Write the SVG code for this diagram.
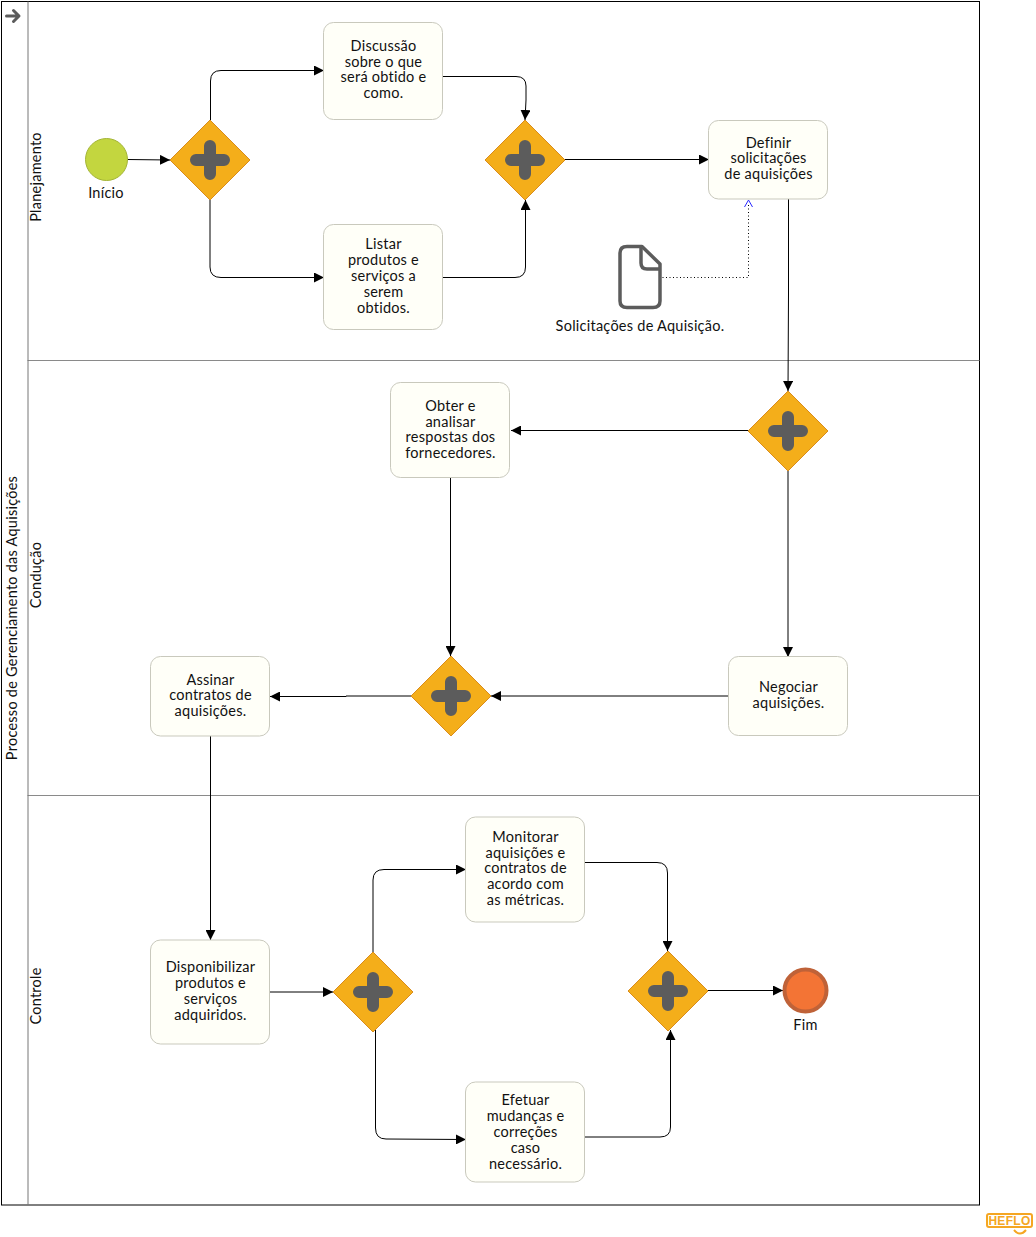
<svg xmlns="http://www.w3.org/2000/svg" width="1036" height="1237" viewBox="0 0 1036 1237">
<defs>
<marker id="arrow" markerUnits="userSpaceOnUse" markerWidth="10" markerHeight="10" refX="10" refY="5" orient="auto"><path d="M0,0L10,5L0,10Z" fill="#000"/></marker>
<g id="gw"><path d="M0,-40L40,0L0,40L-40,0Z" fill="#f4ae1a" stroke="#d98c1c" stroke-width="1"/><path d="M-14,0H14M0,-14V14" stroke="#5c5c5c" stroke-width="12" stroke-linecap="round" fill="none"/></g>
</defs>
<style>
text{font-family:"Lato","Liberation Sans",sans-serif;font-size:14.5px;letter-spacing:.25px;fill:#111;text-anchor:middle}
.task{fill:#fffff8;stroke:#c9c9bd;stroke-width:1}
.c{fill:none;stroke:#000;stroke-width:1;marker-end:url(#arrow)}
</style>
<rect width="1036" height="1237" fill="#fff"/>
<g id="pool">
<rect x="1.500" y="1.500" width="978" height="1203.500" fill="#fff" stroke="#000" stroke-width="1"/>
<path d="M27.500,360.500H979.500M27.500,795.500H979.500" fill="none" stroke="#8a8a8a" stroke-width="1"/>
<path d="M28,1.500V1205" fill="none" stroke="#777" stroke-width="1"/>
<path d="M6.500,16H18M13.500,10.500L19,16L13.500,21.500" fill="none" stroke="#5c5c5c" stroke-width="3" stroke-linecap="round" stroke-linejoin="round"/>
<text transform="translate(17,618) rotate(-90)">Processo de Gerenciamento das Aquisições</text>
<text transform="translate(41,177) rotate(-90)">Planejamento</text>
<text transform="translate(41,575) rotate(-90)">Condução</text>
<text transform="translate(41,996) rotate(-90)">Controle</text>
</g>
<g id="connectors">
<path class="c" d="M127.500,159.500L170,160"/>
<path class="c" d="M210.500,120V81Q210.500,70.500 221,70.500H324"/>
<path class="c" d="M210,200V267Q210,277.500 221,277.500H324"/>
<path class="c" d="M443,76.500H516Q526,76.500 526,86V100L525,120"/>
<path class="c" d="M443,277.500H515Q525.500,277.500 525.500,267V200"/>
<path class="c" d="M565,159.500H709"/>
<path d="M662.500,277.500H748.500V203" fill="none" stroke="#000" stroke-width="1" stroke-dasharray="1 2.500"/>
<path d="M744.500,207L748.500,200L752.500,207" fill="none" stroke="#2a2aff" stroke-width="1"/>
<path class="c" d="M788.500,199V293L788,391"/>
<path class="c" d="M748,430.500H511"/>
<path class="c" d="M788,471V657"/>
<path class="c" d="M450.500,478V656"/>
<path class="c" d="M729,696H491"/>
<path class="c" d="M411,696H346V696.500H270"/>
<path class="c" d="M210.500,736V940"/>
<path class="c" d="M270,992H333"/>
<path class="c" d="M373,952V880Q373,869.500 384,869.500H466"/>
<path class="c" d="M375.500,1030V1128Q375.500,1139 386,1139L466,1139.500"/>
<path class="c" d="M585,862.500H657Q667.500,862.500 667.500,873V951"/>
<path class="c" d="M585,1137H660Q670.500,1137 670.500,1127V1030"/>
<path class="c" d="M708,990.500H783"/>
</g>
<g id="inicio"><circle cx="106.500" cy="159.500" r="21" fill="#c3d63f" stroke="#a3b436"/><text x="106" y="198">Início</text></g>
<g id="gw1"><use href="#gw" x="210" y="160"/></g>
<g id="gw2"><use href="#gw" x="525" y="160"/></g>
<g id="gw3"><use href="#gw" x="788" y="431"/></g>
<g id="gw4"><use href="#gw" x="451" y="696"/></g>
<g id="gw5"><use href="#gw" x="373" y="992"/></g>
<g id="gw6"><use href="#gw" x="668" y="991"/></g>
<g id="t1"><rect class="task" x="323.500" y="22.500" width="119" height="97" rx="10"/><text x="383.500" y="50.500">Discussão</text><text x="383.500" y="66.500">sobre o que</text><text x="383.500" y="81.500">será obtido e</text><text x="383.500" y="97.500">como.</text></g>
<g id="t2"><rect class="task" x="323.500" y="224.500" width="119" height="105" rx="10"/><text x="383.500" y="249">Listar</text><text x="383.500" y="265">produtos e</text><text x="383.500" y="281">serviços a</text><text x="383.500" y="297">serem</text><text x="383.500" y="313">obtidos.</text></g>
<g id="t3"><rect class="task" x="708.500" y="120.500" width="119" height="78.500" rx="10"/><text x="768.500" y="148">Definir</text><text x="768.500" y="163">solicitações</text><text x="768.500" y="179">de aquisições</text></g>
<g id="doc"><path d="M620,253Q620,246.500 627,246.500H642L660,264V301Q660,307.500 653,307.500H627Q620,307.500 620,301Z" fill="#fff" stroke="#5c5c5c" stroke-width="3.500" stroke-linejoin="round"/><path d="M641,246.500V263Q641,269 647,269H660" fill="none" stroke="#5c5c5c" stroke-width="3.500"/><text x="640" y="331">Solicitações de Aquisição.</text></g>
<g id="t4"><rect class="task" x="390.500" y="382.500" width="119" height="95" rx="10"/><text x="450.500" y="411">Obter e</text><text x="450.500" y="427">analisar</text><text x="450.500" y="442">respostas dos</text><text x="450.500" y="458">fornecedores.</text></g>
<g id="t5"><rect class="task" x="728.500" y="656.500" width="119" height="79" rx="10"/><text x="788.500" y="692">Negociar</text><text x="788.500" y="708">aquisições.</text></g>
<g id="t6"><rect class="task" x="150.500" y="656.500" width="119" height="79.500" rx="10"/><text x="210.500" y="685">Assinar</text><text x="210.500" y="700">contratos de</text><text x="210.500" y="716">aquisições.</text></g>
<g id="t7"><rect class="task" x="150.500" y="940" width="119" height="104" rx="10"/><text x="210.500" y="972">Disponibilizar</text><text x="210.500" y="988">produtos e</text><text x="210.500" y="1004">serviços</text><text x="210.500" y="1020">adquiridos.</text></g>
<g id="t8"><rect class="task" x="465.500" y="817" width="119" height="105" rx="10"/><text x="525.500" y="842">Monitorar</text><text x="525.500" y="858">aquisições e</text><text x="525.500" y="873">contratos de</text><text x="525.500" y="889">acordo com</text><text x="525.500" y="905">as métricas.</text></g>
<g id="t9"><rect class="task" x="465.500" y="1082" width="119" height="100" rx="10"/><text x="525.500" y="1105">Efetuar</text><text x="525.500" y="1121">mudanças e</text><text x="525.500" y="1137">correções</text><text x="525.500" y="1153">caso</text><text x="525.500" y="1169">necessário.</text></g>
<g id="fim"><circle cx="805.500" cy="990.500" r="21" fill="#f37435" stroke="#bf6238" stroke-width="4"/><text x="805.500" y="1030">Fim</text></g>
<g id="logo" fill="none" stroke="#f5a623"><rect x="987" y="1214" width="45" height="13" rx="2" stroke-width="2"/><path d="M1014,1230Q1020,1237 1026,1230" stroke-width="2"/><text x="1009.500" y="1225" style="font-family:'Liberation Sans',sans-serif;font-size:12px;font-weight:bold;fill:#f5a623;letter-spacing:.3px" stroke="none">HEFLO</text></g>
</svg>
